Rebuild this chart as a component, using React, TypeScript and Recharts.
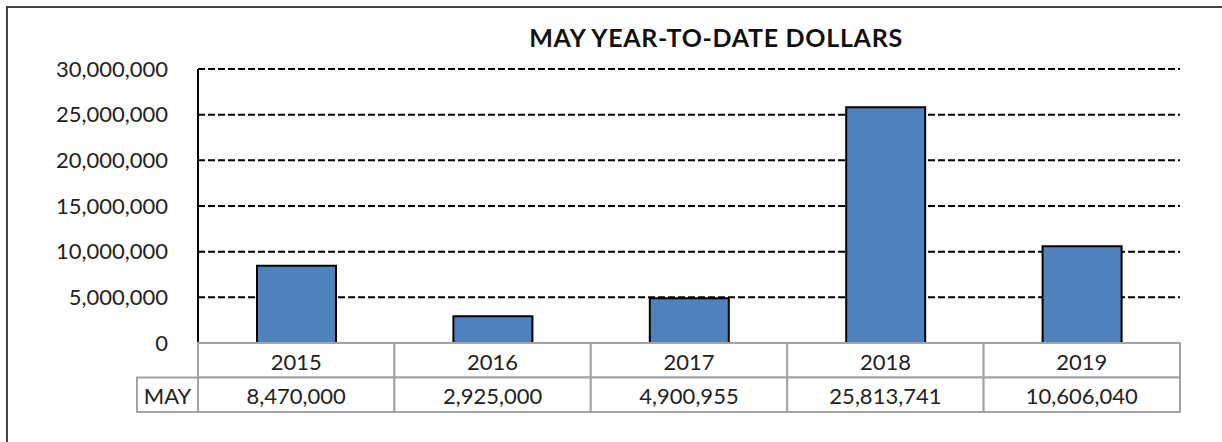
import React from 'react';
import { BarChart, Bar, XAxis, YAxis, CartesianGrid } from 'recharts';

const years = ['2015', '2016', '2017', '2018', '2019'];
const mayDollars = [8470000, 2925000, 4900955, 25813741, 10606040];
const yTicks = [0, 5000000, 10000000, 15000000, 20000000, 25000000, 30000000];
const rowLabel = 'MAY';

const data = years.map((year, i) => ({ year, value: mayDollars[i] }));

const FONT = 'Lato, "Open Sans", sans-serif';
const TABLE_LINE = '#a3a3a3';
const PLOT_W = 982;
const CELL_W = PLOT_W / years.length;
const ROW_H = 34.5;
const fmt = (v: number) => v.toLocaleString('en-US');

const TableTick = (props: any) => {
  const { x, y, payload, index } = props;
  const left = x - CELL_W / 2;
  const value = mayDollars[index];
  return (
    <g>
      <rect x={left} y={y} width={CELL_W} height={ROW_H} fill="#fff" stroke={TABLE_LINE} strokeWidth={2} />
      <rect x={left} y={y + ROW_H} width={CELL_W} height={ROW_H} fill="#fff" stroke={TABLE_LINE} strokeWidth={2} />
      <text x={x} y={y + ROW_H / 2 + 1} textAnchor="middle" dominantBaseline="central" fontSize={22} fontFamily={FONT} fill="#222">
        {payload.value}
      </text>
      <text x={x} y={y + ROW_H * 1.5 + 1} textAnchor="middle" dominantBaseline="central" fontSize={22} fontFamily={FONT} fill="#222">
        {fmt(value)}
      </text>
      {index === 0 && (
        <g>
          <rect x={left - 61} y={y + ROW_H} width={61} height={ROW_H} fill="#fff" stroke={TABLE_LINE} strokeWidth={2} />
          <text x={left - 30.5} y={y + ROW_H * 1.5 + 1} textAnchor="middle" dominantBaseline="central" fontSize={22} fontFamily={FONT} fill="#222">
            {rowLabel}
          </text>
        </g>
      )}
    </g>
  );
};

export default function App() {
  return (
    <div style={{ position: 'absolute', left: 0, top: 0, width: 1222, height: 442, background: '#fff', overflow: 'hidden' }}>
      {/* outer chart frame runs past the right and bottom edges */}
      <div style={{ position: 'absolute', left: 6, top: 6, width: 1300, height: 500, border: '2px solid #444' }} />
      <div
        style={{
          position: 'absolute', left: 416, width: 600, top: 25, textAlign: 'center', lineHeight: '25px',
          fontFamily: FONT, fontWeight: 700, fontSize: 25, letterSpacing: 0.7, color: '#111', whiteSpace: 'nowrap',
        }}
      >
        MAY YEAR-TO-DATE DOLLARS
      </div>
      <div style={{ position: 'absolute', left: 0, top: 0 }}>
        <BarChart width={1222} height={442} data={data} margin={{ top: 69, right: 42, left: 8, bottom: 0 }} barSize={79}>
          <CartesianGrid vertical={false} stroke="#000" strokeWidth={2} strokeDasharray="7 3" />
          <YAxis
            width={190}
            domain={[0, 30000000]}
            ticks={yTicks}
            tickFormatter={fmt}
            tickLine={false}
            tickSize={0}
            tickMargin={30}
            axisLine={{ stroke: '#000', strokeWidth: 2 }}
            tick={{ fontSize: 22, fontFamily: FONT, fill: '#222' }}
            interval={0}
          />
          <YAxis yAxisId="right" orientation="right" width={0} tick={false} tickLine={false} axisLine={{ stroke: TABLE_LINE, strokeWidth: 2 }} />
          <XAxis
            dataKey="year"
            height={99}
            tickLine={false}
            tickSize={0}
            tickMargin={0}
            axisLine={false}
            interval={0}
            tick={<TableTick />}
          />
          <Bar dataKey="value" fill="#4f81bd" stroke="#000" strokeWidth={2} isAnimationActive={false} />
        </BarChart>
      </div>
    </div>
  );
}
